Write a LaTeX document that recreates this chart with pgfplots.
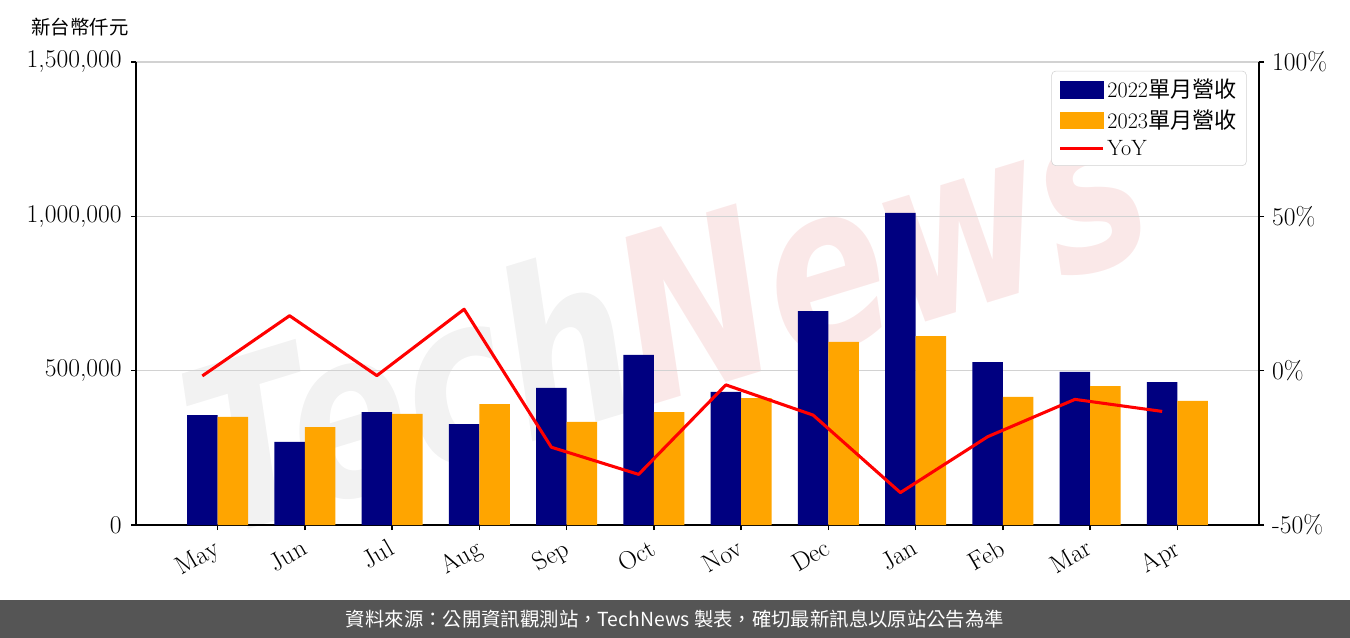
\documentclass[border=0pt]{standalone}
\usepackage{pgfplots}
\pgfplotsset{compat=1.18}
\usepackage{fontspec}
\newfontfamily\cjk{Noto Sans CJK TC}
\newfontfamily\wm{DejaVu Sans}
\definecolor{navy}{RGB}{0,0,128}
\definecolor{orng}{RGB}{255,165,0}
\definecolor{footer}{RGB}{85,85,85}
\definecolor{gridc}{RGB}{210,210,210}

\pgfplotstableread{
x      a       b
0   356000  350000
1   269000  317000
2   366000  360000
3   327000  392000
4   444000  334000
5   551000  366000
6   431000  411000
7   693000  593000
8  1011000  612000
9   528000  415000
10  496000  450000
11  463000  402000
}\revenue

\pgfplotstableread{
x       yoy
-0.175  -1.7
0.825   17.8
1.825   -1.6
2.825   19.9
3.825  -24.8
4.825  -33.6
5.825   -4.6
6.825  -14.4
7.825  -39.5
8.825  -21.4
9.825   -9.3
10.825 -13.2
}\yoy

\begin{document}
\begin{tikzpicture}
% pixel grid of the reference: 1 px = 0.72bp, axis box from (136,62) to (1259,525)
\begin{scope}[x=0.72bp,y=-0.72bp,shift={(-97.92bp,378bp)}]
  \useasboundingbox (0,0) rectangle (1350,638);
  \fill[footer] (0,600) rectangle (1350,638);
  \node[text=white,font=\cjk\fontsize{14}{16}\selectfont] at (675,619)
    {資料來源：公開資訊觀測站，TechNews 製表，確切最新訊息以原站公告為準};
  \node[font=\cjk\fontsize{14}{16}\selectfont] at (80,27) {新台幣仟元};
  % faint watermark, kept inside the plot area
  \node[rotate=17, inner sep=0pt, font=\wm\bfseries\itshape\fontsize{128}{128}\selectfont]
    at (665,312) {\scalebox{1}[1.3]{\textcolor{gray!70}{\pgfsetfillopacity{0.15}Tech}\textcolor{red!80!black}{\pgfsetfillopacity{0.09}News}}};
\end{scope}

\pgfplotsset{every axis/.append style={
  scale only axis, width=808.56bp, height=333.36bp,
  at={(0,0)}, anchor=south west,
  xmin=-0.935, xmax=11.935,
  axis line style={line width=1.3bp},
  major tick style={line width=1bp, black},
  major tick length=3.6bp,
  tick align=outside,
  ticklabel style={font=\fontsize{18.5}{20}\selectfont},
  scaled y ticks=false,
}}

\begin{axis}[
  axis y line*=left, axis x line*=bottom,
  ymin=0, ymax=1500000,
  ytick={0,500000,1000000,1500000},
  yticklabels={0,{500,000},{1,000,000},{1,500,000}},
  yticklabel style={inner sep=1.5bp, xshift=-5bp},
  xtick={0,...,11},
  xticklabels={May,Jun,Jul,Aug,Sep,Oct,Nov,Dec,Jan,Feb,Mar,Apr},
  xticklabel style={rotate=30, anchor=north east, inner sep=2bp, xshift=-4bp, yshift=-1bp},
  ymajorgrids, grid style={gridc, line width=1bp},
]
  \addplot[ybar, bar width=0.35, bar shift=-0.175, fill=navy, draw=none]
    table[x=x, y=a] {\revenue};
  \addplot[ybar, bar width=0.35, bar shift=0.175, fill=orng, draw=none]
    table[x=x, y=b] {\revenue};
\end{axis}

\begin{axis}[
  axis y line*=right, axis x line=none,
  ymin=-50, ymax=100,
  ytick={-50,0,50,100},
  yticklabels={-50\%,0\%,50\%,100\%},
  yticklabel style={inner sep=2bp, xshift=3.6bp},
  legend style={at={(0.989,0.981)}, anchor=north east,
    draw=gridc, rounded corners=3bp, fill=white,
    font=\fontsize{16}{18}\selectfont,
    row sep=3bp, inner xsep=5bp, inner ysep=4bp},
  legend cell align=left,
]
  \addlegendimage{legend image code/.code={\fill[navy, sharp corners] (0bp,-5.8bp) rectangle (31bp,5.8bp);}}
  \addlegendentry{2022{\cjk 單月營收}}
  \addlegendimage{legend image code/.code={\fill[orng, sharp corners] (0bp,-5.8bp) rectangle (31bp,5.8bp);}}
  \addlegendentry{2023{\cjk 單月營收}}
  \addplot[red, line width=2.2bp, line join=round,
    legend image code/.code={\draw[red, line width=2.2bp, sharp corners] (0bp,0bp) -- (31bp,0bp);}]
    table[x=x, y=yoy] {\yoy};
  \addlegendentry{YoY}
\end{axis}
\end{tikzpicture}
\end{document}
